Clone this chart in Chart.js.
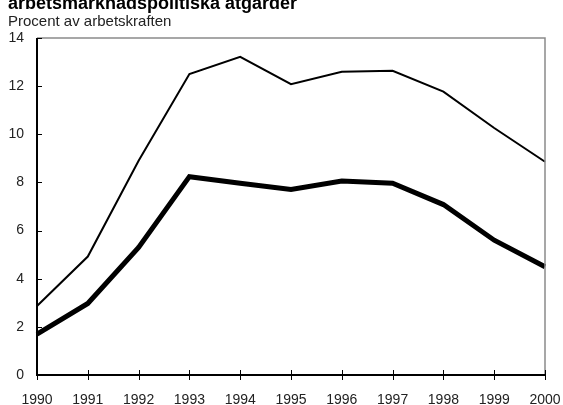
<!DOCTYPE html>
<html>
<head>
<meta charset="utf-8">
<script src="https://cdn.jsdelivr.net/npm/chart.js@4"></script>
<style>
  html, body { margin: 0; padding: 0; background: #fff; }
  #wrap { position: relative; width: 563px; height: 405px; }
</style>
</head>
<body>
<div id="wrap"><canvas id="chart" width="563" height="405"></canvas></div>
<script>
// Data
const years = ['1990', '1991', '1992', '1993', '1994', '1995', '1996', '1997', '1998', '1999', '2000'];
const totalMeasures = [2.87, 4.92, 8.9, 12.5, 13.22, 12.08, 12.6, 12.64, 11.77, 10.26, 8.86];
const openUnemployment = [1.7, 2.97, 5.3, 8.24, 7.97, 7.71, 8.06, 7.97, 7.08, 5.6, 4.5];
const yTicks = [0, 2, 4, 6, 8, 10, 12, 14];

const titleText = 'arbetsmarknadspolitiska åtgärder';
const subtitleText = 'Procent av arbetskraften';
const FONT = '"Liberation Sans", Arial, sans-serif';

// frame, inside ticks and texts on top
const framePlugin = {
  id: 'frame',
  afterDraw(chart) {
    const { ctx, chartArea: a, scales } = chart;
    ctx.save();
    // grey top and right border
    ctx.strokeStyle = '#8a8a8a';
    ctx.lineWidth = 1.5;
    ctx.beginPath();
    ctx.moveTo(a.left, a.top);
    ctx.lineTo(a.right, a.top);
    ctx.lineTo(a.right, a.bottom);
    ctx.stroke();
    // black axes
    ctx.strokeStyle = '#000';
    ctx.lineWidth = 2;
    ctx.beginPath();
    ctx.moveTo(a.left, a.top);
    ctx.lineTo(a.left, a.bottom);
    ctx.lineTo(a.right, a.bottom);
    ctx.stroke();
    // y ticks, pointing inward
    ctx.lineWidth = 1;
    yTicks.forEach(v => {
      const y = Math.round(scales.y.getPixelForValue(v)) + 0.5;
      ctx.beginPath();
      ctx.moveTo(a.left, y);
      ctx.lineTo(a.left + 5, y);
      ctx.stroke();
    });
    // x ticks crossing the axis
    years.forEach((_, i) => {
      const x = Math.round(scales.x.getPixelForValue(i)) + 0.5;
      ctx.beginPath();
      ctx.moveTo(x, a.bottom - 5);
      ctx.lineTo(x, a.bottom + 5);
      ctx.stroke();
    });
    // titles
    ctx.fillStyle = '#000';
    ctx.textAlign = 'left';
    ctx.textBaseline = 'alphabetic';
    ctx.font = 'bold 18px ' + FONT;
    ctx.fillText(titleText, 8, 9);
    ctx.fillStyle = '#222';
    ctx.font = '15px ' + FONT;
    ctx.fillText(subtitleText, 8, 26);
    ctx.restore();
  }
};

new Chart(document.getElementById('chart'), {
  type: 'line',
  data: {
    labels: years,
    datasets: [
      {
        label: 'Öppen arbetslöshet och arbetsmarknadspolitiska åtgärder',
        data: totalMeasures,
        borderColor: '#000',
        borderWidth: 2,
        pointRadius: 0,
        tension: 0,
        fill: false
      },
      {
        label: 'Öppen arbetslöshet',
        data: openUnemployment,
        borderColor: '#000',
        borderWidth: 5,
        pointRadius: 0,
        tension: 0,
        fill: false
      }
    ]
  },
  options: {
    responsive: false,
    animation: false,
    layout: { padding: { top: 38, right: 18, left: 0, bottom: 0 } },
    plugins: { legend: { display: false }, tooltip: { enabled: false } },
    scales: {
      x: {
        offset: false,
        grid: { display: false, drawTicks: false },
        border: { display: false },
        ticks: {
          color: '#222',
          font: { family: FONT, size: 14 },
          padding: 17,
          maxRotation: 0,
          autoSkip: false
        },
        afterFit(s) { s.height = 30; s.paddingLeft = 0; s.paddingRight = 0; }
      },
      y: {
        min: 0,
        max: 14,
        grid: { display: false, drawTicks: false },
        border: { display: false },
        afterBuildTicks(s) { s.ticks = yTicks.map(v => ({ value: v })); },
        ticks: {
          color: '#222',
          font: { family: FONT, size: 14 },
          padding: 13
        },
        afterFit(s) { s.width = 37; s.paddingTop = 0; s.paddingBottom = 0; }
      }
    }
  },
  plugins: [framePlugin]
});
</script>
</body>
</html>
